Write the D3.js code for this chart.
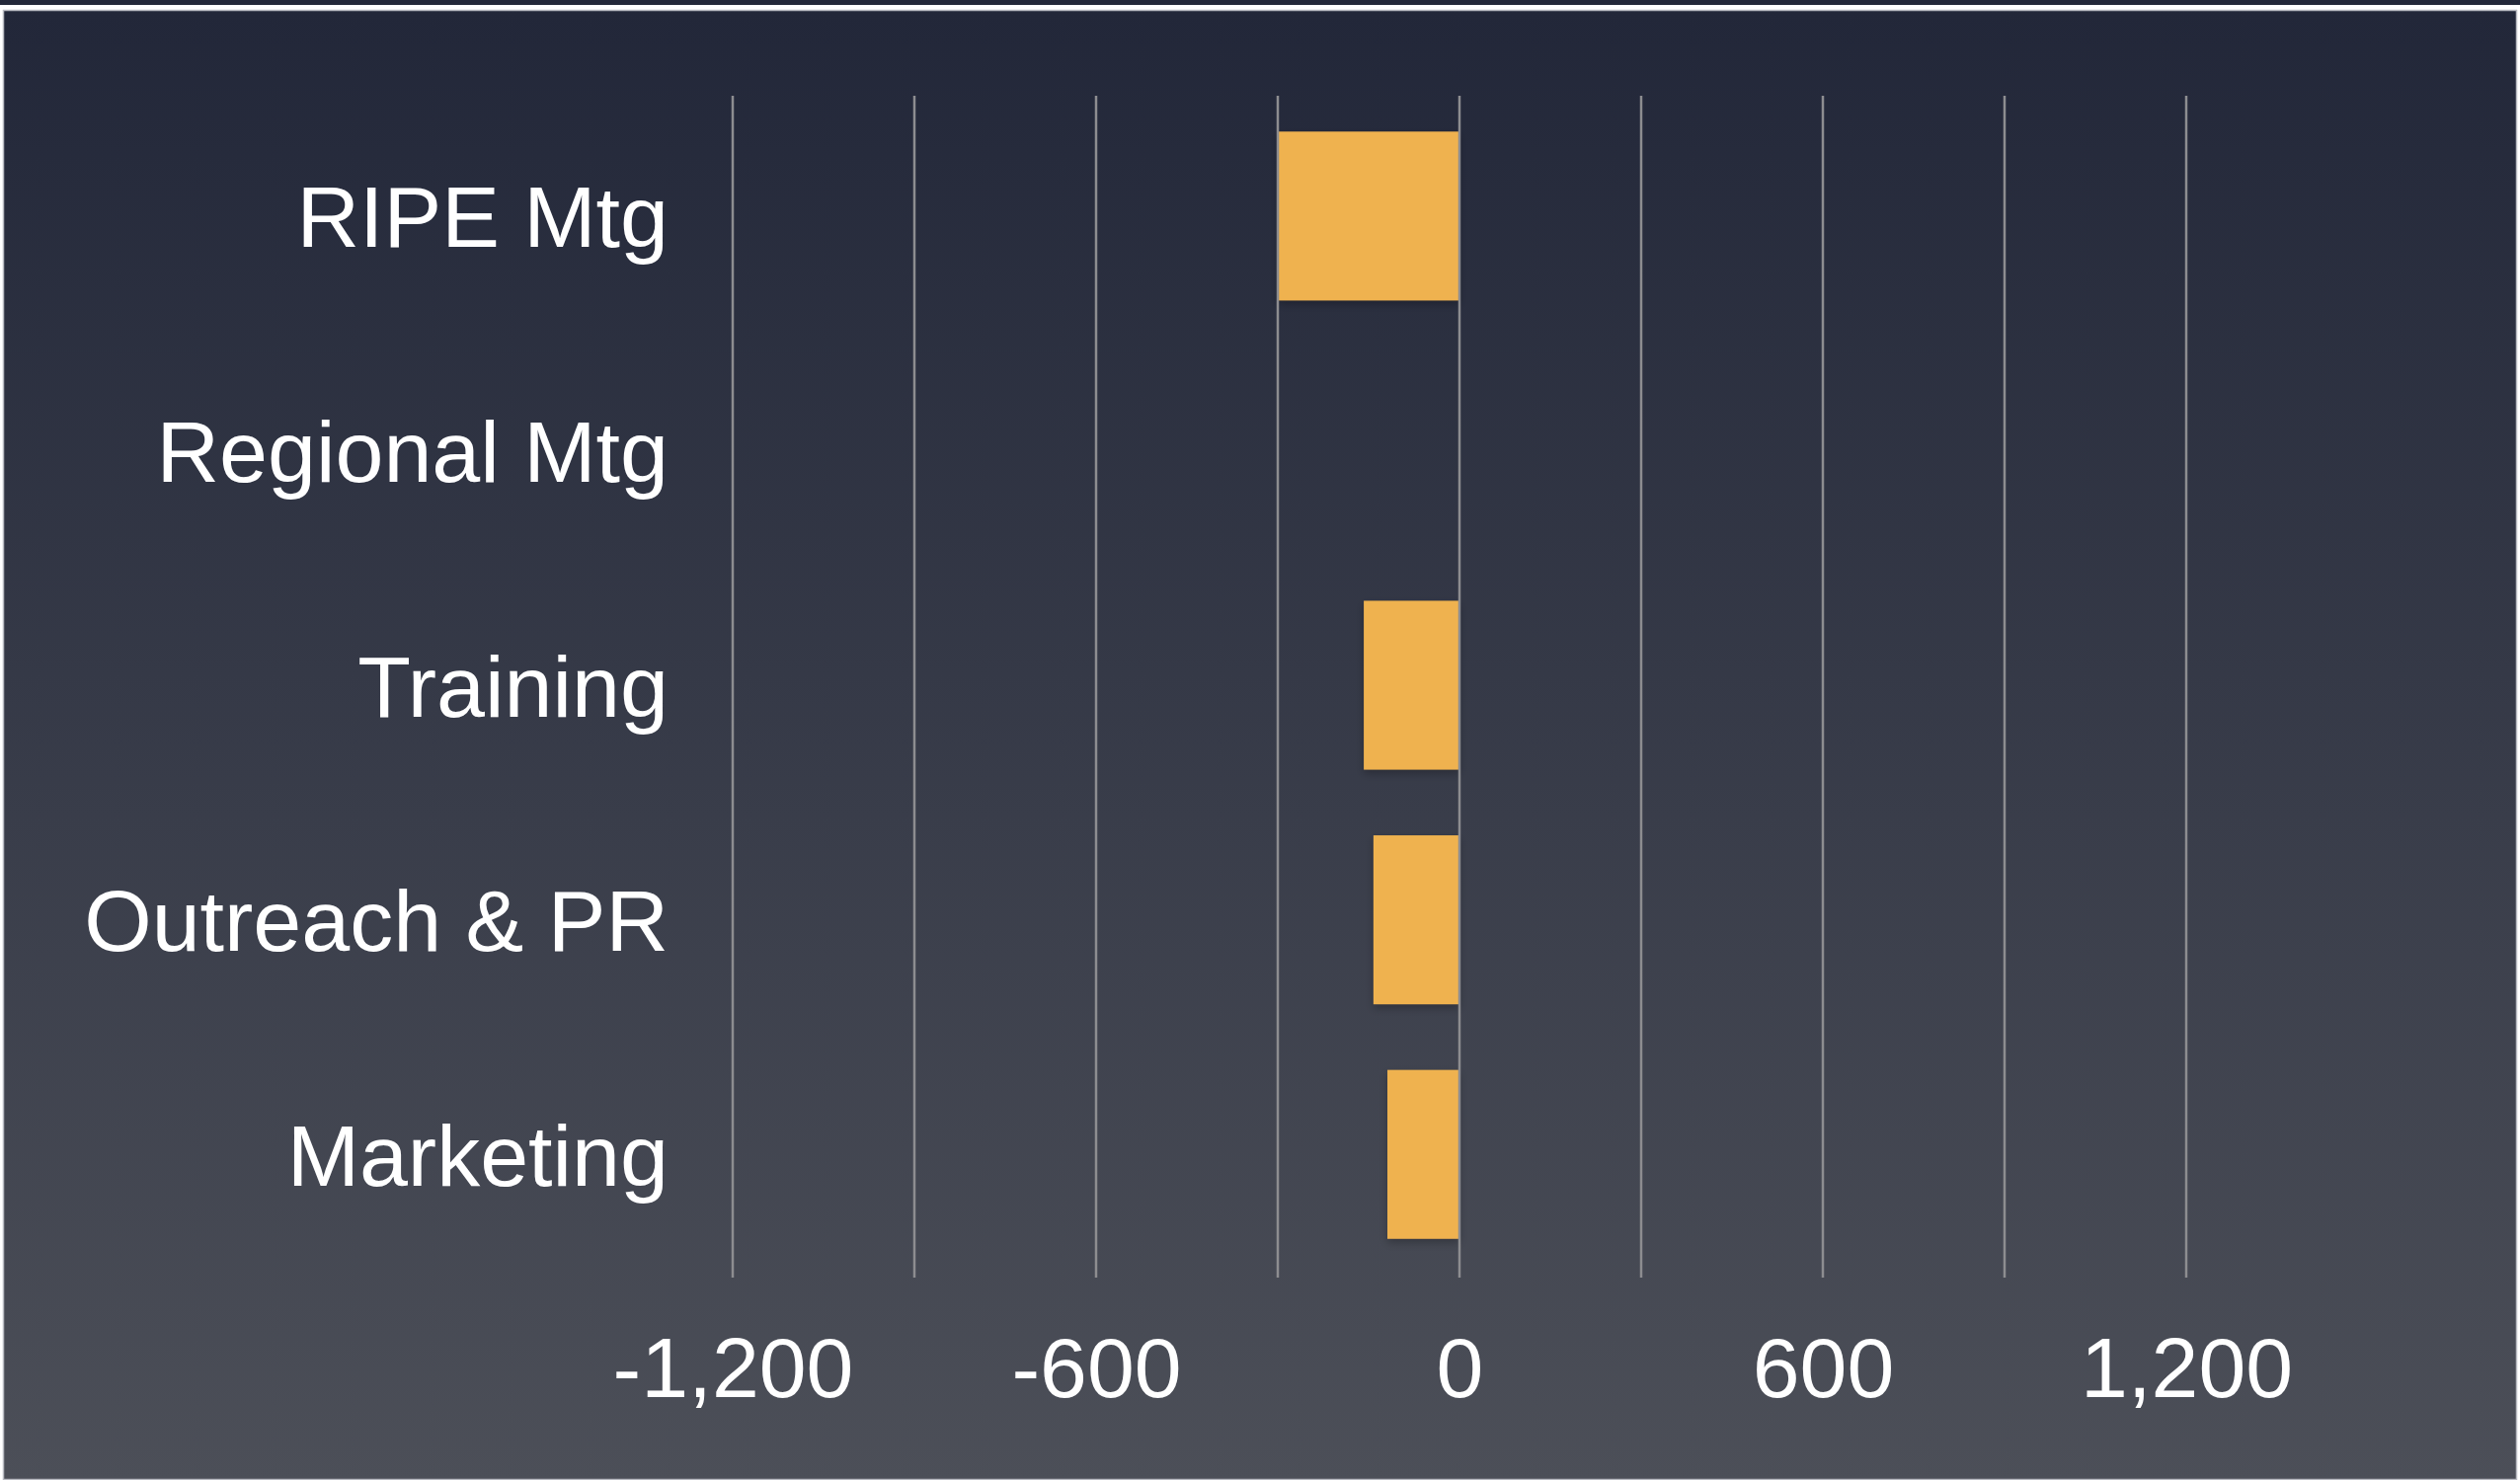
<!DOCTYPE html>
<html>
<head>
<meta charset="utf-8">
<script src="https://cdn.jsdelivr.net/npm/d3@7"></script>
<style>
  html, body { margin: 0; padding: 0; background: #ffffff; overflow: hidden; }
  svg { display: block; }
</style>
</head>
<body>
<div id="chart"></div>
<script>
// ---- Data -------------------------------------------------------
const CATEGORIES = ['RIPE Mtg', 'Regional Mtg', 'Training', 'Outreach & PR', 'Marketing'];
const VALUES     = [-300, 0, -158, -142, -119];
const GRID_TICKS = [-1200, -900, -600, -300, 0, 300, 600, 900, 1200];
const LABEL_TICKS = [-1200, -600, 0, 600, 1200];

// ---- Layout -----------------------------------------------------
const W = 2552, H = 1499;
const FONT = '"Liberation Sans", Arial, Helvetica, sans-serif';

const svg = d3.select('#chart')
  .append('svg')
  .attr('width', W)
  .attr('height', H);

const defs = svg.append('defs');

const bg = defs.append('linearGradient')
  .attr('id', 'bg-grad')
  .attr('x1', 0).attr('y1', 0).attr('x2', 0).attr('y2', 1);
bg.append('stop').attr('offset', '0%').attr('stop-color', '#222739');
bg.append('stop').attr('offset', '100%').attr('stop-color', '#4c4f58');

const shadow = defs.append('filter')
  .attr('id', 'bar-shadow')
  .attr('x', '-10%').attr('y', '-10%').attr('width', '130%').attr('height', '130%');
shadow.append('feDropShadow')
  .attr('dx', 0).attr('dy', 4).attr('stdDeviation', 4)
  .attr('flood-color', '#000').attr('flood-opacity', 0.25);

// dark strip at very top, then the slide panel
svg.append('rect').attr('x', 0).attr('y', 0).attr('width', W).attr('height', 5).attr('fill', '#232839');
svg.append('rect')
  .attr('x', 3.5).attr('y', 10.5)
  .attr('width', W - 7).attr('height', H - 11)
  .attr('fill', 'url(#bg-grad)')
  .attr('stroke', '#b9bbc2')
  .attr('stroke-width', 1.5);

// ---- Scales -----------------------------------------------------
const x = d3.scaleLinear().domain([-1200, 1200]).range([742, 2214]);
const y = d3.scaleBand().domain(CATEGORIES).range([100, 1288]).paddingInner(0.28).paddingOuter(0.14);

const gridTop = 97, gridBottom = 1294;

// ---- Bars -------------------------------------------------------
svg.append('g')
  .selectAll('rect')
  .data(CATEGORIES.map((c, i) => ({ cat: c, value: VALUES[i] })))
  .join('rect')
  .attr('x', d => x(Math.min(0, d.value)))
  .attr('y', d => y(d.cat))
  .attr('width', d => Math.abs(x(d.value) - x(0)))
  .attr('height', y.bandwidth())
  .attr('fill', '#efb24f')
  .attr('filter', 'url(#bar-shadow)');

// ---- Gridlines --------------------------------------------------
svg.append('g')
  .selectAll('line')
  .data(GRID_TICKS)
  .join('line')
  .attr('x1', d => x(d)).attr('x2', d => x(d))
  .attr('y1', gridTop).attr('y2', gridBottom)
  .attr('stroke', '#8d8d90')
  .attr('stroke-width', 2.5);

// ---- X axis labels ----------------------------------------------
const fmt = d3.format(',');
const xAxis = d3.axisBottom(x)
  .tickValues(LABEL_TICKS)
  .tickFormat(d => fmt(d).replace('−', '-'))
  .tickSize(0)
  .tickPadding(0);

const gx = svg.append('g')
  .attr('transform', 'translate(0,1415)')
  .call(xAxis);
gx.select('.domain').remove();
gx.selectAll('text')
  .attr('y', 0)
  .attr('dy', 0)
  .attr('fill', '#ffffff')
  .style('font-family', FONT)
  .style('font-size', '86px');

// ---- Y category labels ------------------------------------------
const yAxis = d3.axisLeft(y).tickSize(0).tickPadding(0);
const gy = svg.append('g')
  .attr('transform', 'translate(677,0)')
  .call(yAxis);
gy.select('.domain').remove();
gy.selectAll('text')
  .attr('x', 0)
  .attr('dy', '0.36em')
  .attr('fill', '#ffffff')
  .style('font-family', FONT)
  .style('font-size', '88px');
</script>
</body>
</html>
